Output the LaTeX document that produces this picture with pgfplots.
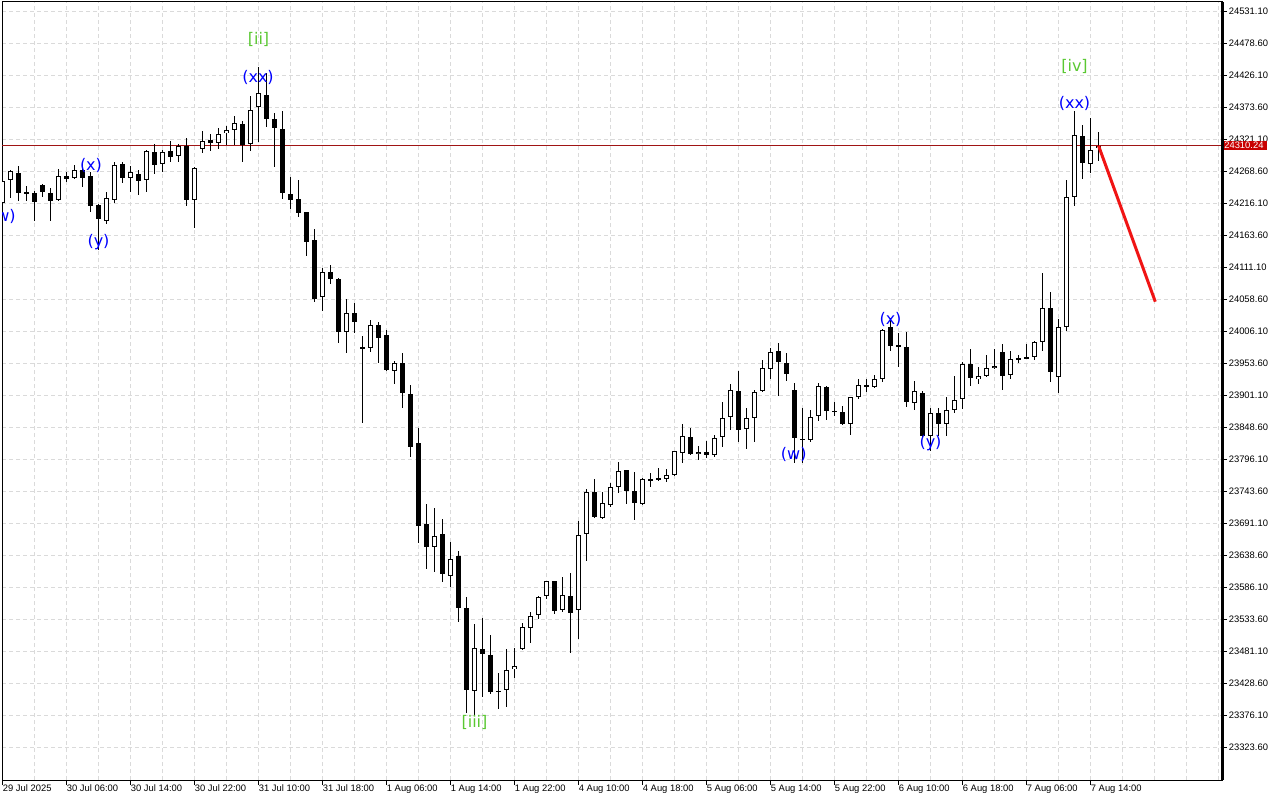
\documentclass[border=0pt]{standalone}
\usepackage{pgfplots}
\pgfplotsset{compat=1.18}
\usepackage{pgfplotstable}
\usepackage{fontspec}
\setmainfont{Liberation Sans}
\newfontfamily\wavefont{DejaVu Sans}
\definecolor{gridc}{RGB}{218,218,218}
\definecolor{wblue}{RGB}{0,0,255}
\definecolor{wgreen}{RGB}{90,200,50}
\definecolor{pline}{RGB}{160,20,20}
\definecolor{plabel}{RGB}{200,0,0}
\definecolor{fred}{RGB}{240,20,20}

\pgfplotstableread{
i o h l c
0 24215.6 24257.1 24207.9 24252.2
1 24253.4 24270.2 24224.8 24268.6
2 24265.8 24276.8 24219.4 24233.0
3 24234.1 24243.5 24219.4 24230.4
4 24232.0 24235.8 24187.1 24217.3
5 24245.6 24247.3 24226.4 24233.7
6 24232.5 24240.2 24187.1 24219.9
7 24220.5 24271.9 24219.4 24260.4
8 24260.4 24267.5 24251.1 24256.0
9 24256.6 24278.0 24255.5 24269.8
10 24270.2 24281.2 24242.9 24257.6
11 24260.4 24267.0 24201.8 24211.7
12 24212.8 24214.5 24139.0 24189.4
13 24186.1 24234.6 24181.2 24223.8
14 24221.0 24283.9 24215.6 24278.0
15 24279.6 24283.9 24248.4 24256.6
16 24256.6 24276.8 24233.7 24266.5
17 24263.2 24270.2 24229.7 24251.7
18 24253.4 24303.1 24233.7 24301.4
19 24299.3 24312.4 24263.2 24278.0
20 24279.6 24303.1 24266.5 24299.3
21 24301.4 24317.8 24283.4 24292.1
22 24292.7 24312.4 24282.9 24309.1
23 24309.6 24322.3 24211.7 24220.5
24 24220.5 24275.7 24175.6 24273.5
25 24304.2 24334.2 24298.6 24317.3
26 24319.5 24329.3 24301.9 24314.1
27 24314.1 24339.6 24304.2 24328.8
28 24330.5 24342.9 24311.3 24335.4
29 24335.4 24358.8 24311.3 24347.4
30 24345.7 24350.6 24283.9 24311.3
31 24312.4 24391.7 24301.9 24368.7
32 24373.1 24439.7 24316.7 24396.1
33 24393.3 24428.9 24341.3 24353.4
34 24353.4 24364.3 24275.7 24338.7
35 24337.0 24367.0 24222.2 24232.0
36 24230.4 24258.8 24206.8 24220.5
37 24222.2 24253.8 24193.6 24199.2
38 24200.9 24200.9 24129.6 24151.6
39 24154.9 24173.5 24054.2 24059.1
40 24061.4 24109.0 24039.4 24102.4
41 24102.4 24114.4 24083.2 24091.4
42 24091.4 24093.1 23986.9 24005.0
43 24005.0 24058.6 23969.5 24035.1
44 24035.1 24052.0 24002.3 24021.4
45 23980.3 23997.9 23855.7 23977.7
46 23977.7 24024.2 23972.1 24016.0
47 24016.0 24021.4 23953.1 23994.1
48 23999.5 24007.7 23940.5 23942.1
49 23941.0 23956.9 23918.6 23953.1
50 23953.1 23969.5 23880.3 23903.9
51 23902.7 23917.5 23799.9 23816.3
52 23821.9 23846.5 23658.8 23686.7
53 23689.5 23722.3 23615.6 23652.2
54 23652.2 23715.2 23611.2 23670.3
55 23672.6 23697.2 23593.8 23606.9
56 23604.6 23659.4 23586.6 23631.5
57 23637.0 23645.2 23528.2 23551.2
58 23551.2 23570.2 23379.9 23416.6
59 23415.5 23525.4 23376.1 23485.5
60 23483.9 23534.8 23406.1 23475.7
61 23474.5 23507.4 23410.1 23414.3
62 23415.0 23444.5 23385.5 23416.0
63 23416.6 23484.4 23389.7 23449.4
64 23451.1 23485.5 23437.3 23457.0
65 23484.4 23527.5 23482.7 23520.0
66 23518.4 23544.6 23493.7 23538.0
67 23539.7 23571.3 23534.1 23569.7
68 23570.9 23596.4 23565.9 23595.5
69 23595.5 23596.4 23541.3 23547.2
70 23547.9 23602.5 23545.6 23572.5
71 23571.3 23608.6 23478.3 23543.0
72 23547.9 23694.4 23501.3 23670.9
73 23672.6 23746.4 23629.3 23742.5
74 23742.5 23762.8 23699.3 23700.5
75 23698.8 23742.5 23697.7 23723.4
76 23720.1 23756.2 23717.9 23749.7
77 23749.7 23791.2 23739.8 23775.9
78 23777.6 23778.0 23721.8 23743.1
79 23743.6 23774.8 23696.0 23723.4
80 23721.8 23764.4 23720.1 23762.8
81 23762.8 23773.1 23749.7 23761.2
82 23764.4 23780.8 23759.5 23762.2
83 23762.8 23779.2 23757.9 23769.4
84 23769.4 23808.7 23767.7 23808.7
85 23805.5 23853.5 23789.1 23833.3
86 23831.7 23846.5 23802.7 23803.8
87 23803.8 23816.9 23794.0 23807.1
88 23807.1 23825.1 23798.2 23802.2
89 23802.2 23835.0 23798.9 23830.1
90 23831.7 23890.1 23815.8 23862.9
91 23864.5 23918.6 23843.7 23908.8
92 23907.2 23940.0 23823.5 23843.2
93 23844.8 23879.3 23812.0 23862.9
94 23862.9 23908.8 23824.5 23905.5
95 23907.2 23958.0 23905.5 23944.9
96 23943.3 23977.7 23926.9 23971.2
97 23972.8 23985.9 23900.0 23954.8
98 23953.1 23969.5 23923.6 23935.1
99 23908.8 23920.3 23789.1 23830.1
100 23829.7 23879.3 23789.1 23828.1
101 23826.8 23876.0 23823.5 23865.5
102 23866.2 23920.3 23858.0 23915.4
103 23913.7 23915.4 23859.6 23874.4
104 23874.9 23889.1 23866.2 23873.9
105 23872.7 23882.6 23851.9 23853.0
106 23853.0 23898.3 23836.0 23897.3
107 23897.3 23926.9 23894.0 23917.0
108 23917.0 23926.9 23905.5 23913.7
109 23913.7 23933.4 23912.1 23926.9
110 23926.9 24008.9 23922.9 24007.3
111 24012.2 24026.9 23972.8 23981.0
112 23982.6 24002.3 23946.6 23979.4
113 23979.4 24004.0 23881.9 23889.1
114 23887.5 23923.6 23876.0 23907.2
115 23903.9 23907.2 23832.2 23833.3
116 23833.3 23879.3 23808.7 23871.1
117 23871.1 23879.3 23833.3 23853.0
118 23853.0 23897.3 23833.3 23876.0
119 23876.0 23931.8 23871.1 23892.4
120 23894.0 23954.8 23877.6 23951.5
121 23951.5 23976.1 23915.9 23928.5
122 23926.9 23946.6 23918.6 23931.8
123 23931.8 23966.2 23930.6 23944.9
124 23944.9 23976.1 23943.8 23948.2
125 23971.2 23984.3 23908.8 23931.8
126 23933.4 23972.8 23926.9 23959.7
127 23961.3 23966.2 23953.1 23959.7
128 23963.0 23984.3 23961.0 23961.3
129 23963.0 23989.2 23958.0 23987.6
130 23987.6 24100.8 23972.8 24043.3
131 24043.3 24069.6 23921.9 23938.4
132 23930.1 24025.3 23903.9 24012.2
133 24012.2 24253.4 24005.6 24225.5
134 24225.5 24366.6 24210.7 24327.2
135 24325.5 24343.6 24255.0 24281.2
136 24279.6 24355.1 24264.8 24302.6
137 24306.3 24333.4 24284.2 24310.24
}\candles

\begin{document}
\begin{tikzpicture}
\path[use as bounding box] (-1.05pt,-10pt) rectangle (638.95pt,390pt);
\begin{axis}[
  at={(0,0)}, anchor=south west,
  scale only axis, width=610pt, height=389pt,
  xmin=-0.05, xmax=152.45, ymin=23269.46, ymax=24545.87,
  axis line style={line width=0.5pt},
  tick align=outside, major tick length=2.25pt, minor tick length=0pt,
  xtick pos=bottom, ytick pos=right, yticklabel pos=right,
  xtick={0,8,16,24,32,40,48,56,64,72,80,88,96,104,112,120,128,136},
  xticklabels={29 Jul 2025,30 Jul 06:00,30 Jul 14:00,30 Jul 22:00,31 Jul 10:00,31 Jul 18:00,1 Aug 06:00,1 Aug 14:00,1 Aug 22:00,4 Aug 10:00,4 Aug 18:00,5 Aug 06:00,5 Aug 14:00,5 Aug 22:00,6 Aug 10:00,6 Aug 18:00,7 Aug 06:00,7 Aug 14:00},
  minor xtick={4,12,20,28,36,44,52,60,68,76,84,92,100,108,116,124,132,140,144,148,152},
  ytick={23323.6,23376.1,23428.6,23481.1,23533.6,23586.1,23638.6,23691.1,23743.6,23796.1,23848.6,23901.1,23953.6,24006.1,24058.6,24111.1,24163.6,24216.1,24268.6,24321.1,24373.6,24426.1,24478.6,24531.1},
  yticklabels={23323.60,23376.10,23428.60,23481.10,23533.60,23586.10,23638.60,23691.10,23743.60,23796.10,23848.60,23901.10,23953.60,24006.10,24058.60,24111.10,24163.60,24216.10,24268.60,24321.10,24373.60,24426.10,24478.60,24531.10},
  scaled y ticks=false,
  grid=both,
  major grid style={gridc, dash pattern=on 2pt off 1.5pt, line width=0.5pt},
  minor grid style={gridc, dash pattern=on 2pt off 1.5pt, line width=0.5pt},
  tick style={black, line width=0.5pt},
  tick label style={font=\fontsize{4.7pt}{5pt}\selectfont},
  xticklabel style={anchor=north west, inner sep=0pt},
  yticklabel style={anchor=west, inner xsep=1.5pt, inner ysep=0.75pt, xshift=-0.6pt},
  extra y ticks={24310.24},
  extra y tick labels={24310.24},
  extra y tick style={major tick length=0pt, major grid style={solid, pline, line width=0.5pt}, yticklabel style={fill=plabel, text=white}},
]
% wicks
\addplot[draw=none, mark=none, forget plot,
  error bars/.cd, y dir=both, y explicit, error mark=none,
  error bar style={line width=0.5pt, draw=black, solid}]
  table[x=i, y expr={(\thisrow{h}+\thisrow{l})/2}, y error expr={(\thisrow{h}-\thisrow{l})/2}] {\candles};
% bodies (outline / black)
\addplot[draw=none, mark=none, forget plot,
  error bars/.cd, y dir=both, y explicit, error mark=none,
  error bar style={line width=2.5pt, draw=black, solid}]
  table[x=i, y expr={(\thisrow{o}+\thisrow{c})/2}, y error expr={max(abs(\thisrow{c}-\thisrow{o})/2,0.82)}] {\candles};
% white interior of rising candles
\addplot[draw=none, mark=none, forget plot,
  error bars/.cd, y dir=both, y explicit, error mark=none,
  error bar style={line width=1.5pt, draw=white, solid}]
  table[x=i, y expr={(\thisrow{o}+\thisrow{c})/2}, y error expr={max((\thisrow{c}-\thisrow{o})/2-1.64,0)}] {\candles};
% forecast line
\addplot[fred, line width=1.5pt, forget plot] coordinates {(137,24310.24) (144.1,24054.2)};
% wave labels
\begin{scope}[every node/.style={font=\wavefont\fontsize{8pt}{9pt}\selectfont, inner sep=0pt}]
\node[wblue] at (axis cs:0.05,24194.8) {(w)};
\node[wblue] at (axis cs:11.06,24278.4) {(x)};
\node[wblue] at (axis cs:12.0,24152.1) {(y)};
\node[wgreen] at (axis cs:32,24485.2) {[ii]};
\node[wblue] at (axis cs:31.94,24422.0) {(xx)};
\node[wgreen] at (axis cs:59,23364.6) {[iii]};
\node[wblue] at (axis cs:98.9,23804.0) {(w)};
\node[wblue] at (axis cs:111,24025.8) {(x)};
\node[wblue] at (axis cs:116,23822.4) {(y)};
\node[wgreen] at (axis cs:134,24440.9) {[iv]};
\node[wblue] at (axis cs:134,24378.9) {(xx)};
\end{scope}
\end{axis}
\draw[line width=1.5pt] (current axis.south east) -- (current axis.north east);
\end{tikzpicture}
\end{document}
